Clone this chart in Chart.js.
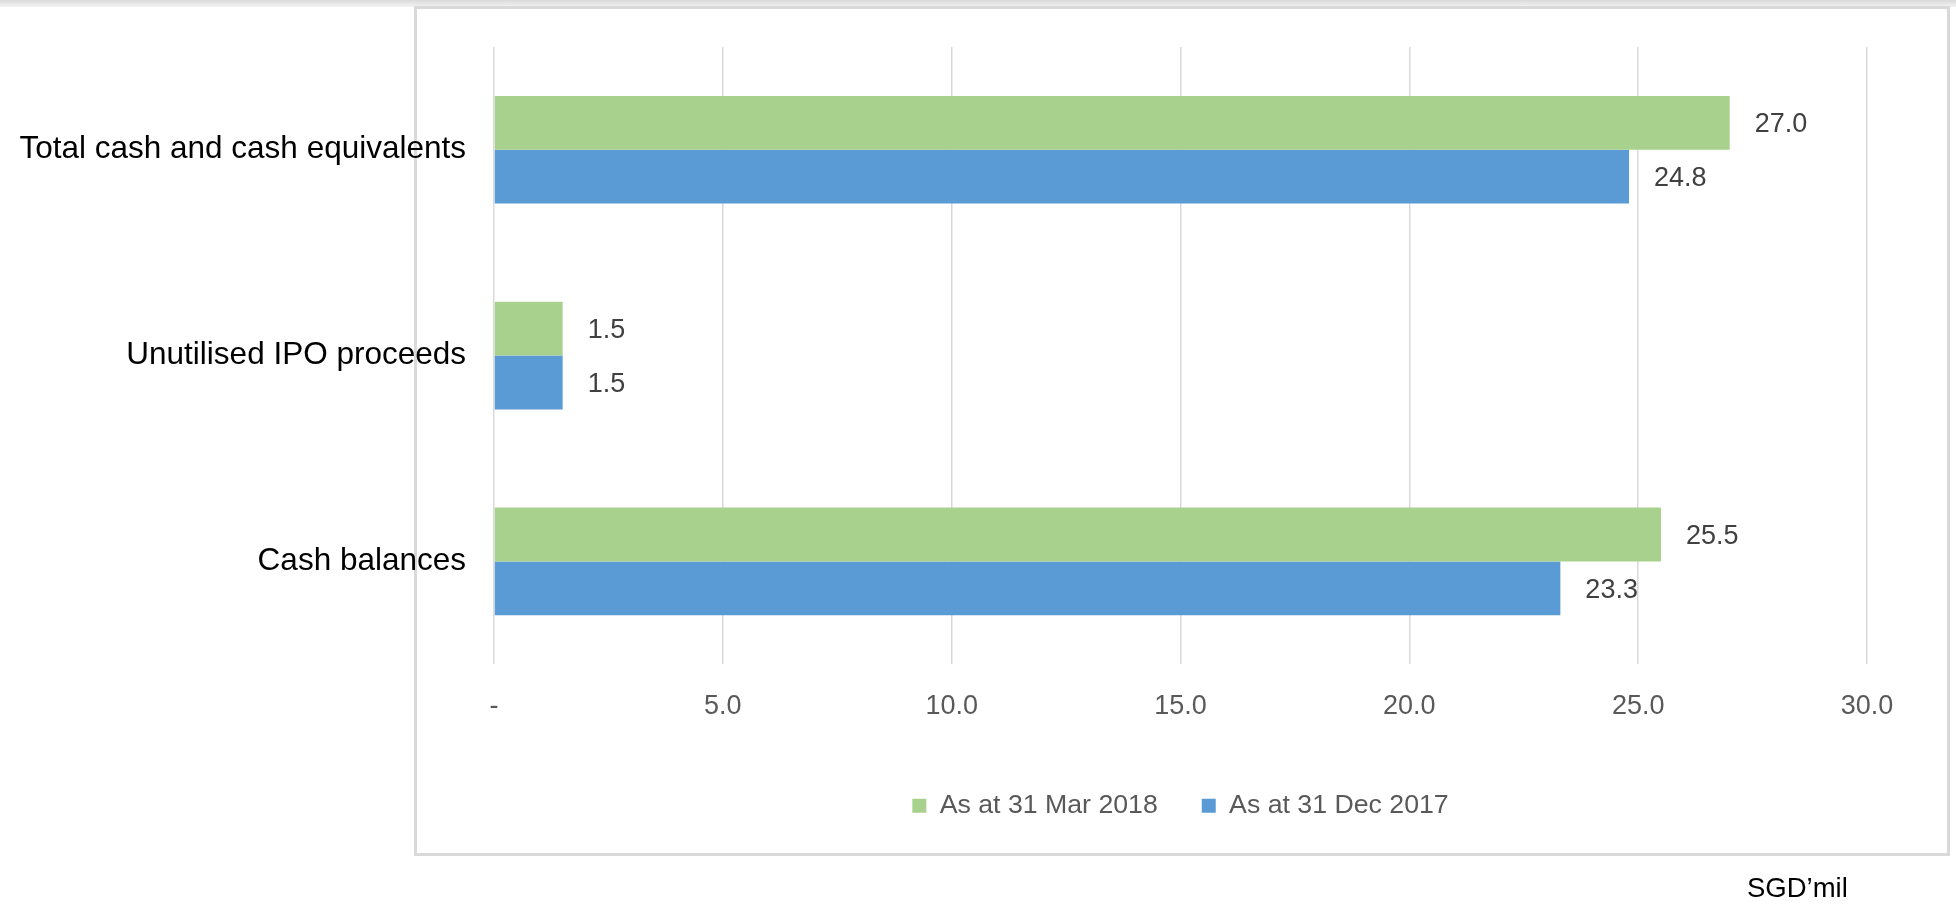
<!DOCTYPE html>
<html>
<head>
<meta charset="utf-8">
<script src="https://cdn.jsdelivr.net/npm/chart.js@4.4.1/dist/chart.umd.min.js"></script>
<style>
  body { margin: 0; background: #fff; }
  #wrap { position: relative; width: 1956px; height: 909px; overflow: hidden; }
  #band { position: absolute; left: 0; top: 0; width: 1956px; height: 7px; background: linear-gradient(#dadada, #f3f3f3); }
  #frame { position: absolute; left: 414px; top: 6px; width: 1536px; height: 850px; border: 3px solid #d9d9d9; box-sizing: border-box; }
  #cv { position: absolute; left: 0; top: 0; }
  #unit { position: absolute; left: 1747px; top: 871px; font: 27.5px "Liberation Sans", Arial, sans-serif; line-height: 34px; color: #000; }
</style>
</head>
<body>
<div id="wrap">
  <div id="band"></div>
  <div id="frame"></div>
  <canvas id="cv" width="1956" height="909"></canvas>
  <div id="unit">SGD’mil</div>
</div>
<script>
var categories = ["Total cash and cash equivalents", "Unutilised IPO proceeds", "Cash balances"];
var seriesNames = ["As at 31 Mar 2018", "As at 31 Dec 2017"];
var mar2018 = [27.0, 1.5, 25.5];
var dec2017 = [24.8, 1.5, 23.3];
var xTicks = [0, 5, 10, 15, 20, 25, 30];

var valueLabels = {
    id: "valueLabels",
    afterDatasetsDraw: function(chart) {
        var ctx = chart.ctx;
        ctx.save();
        ctx.font = "27px 'Liberation Sans', Arial, sans-serif";
        ctx.fillStyle = "#404040";
        ctx.textAlign = "left";
        ctx.textBaseline = "middle";
        chart.data.datasets.forEach(function(ds, i) {
            chart.getDatasetMeta(i).data.forEach(function(bar, j) {
                ctx.fillText(ds.data[j].toFixed(1), bar.x + 25, bar.y + 2);
            });
        });
        ctx.restore();
    }
};

var ctx = document.getElementById("cv").getContext("2d");

var chart = new Chart(ctx, {
    type: "bar",
    data: {
        labels: categories,
        datasets: [
            { label: seriesNames[0], data: mar2018, backgroundColor: "#a9d18e" },
            { label: seriesNames[1], data: dec2017, backgroundColor: "#5b9bd5" }
        ]
    },
    options: {
        indexAxis: "y",
        responsive: false,
        animation: false,
        barPercentage: 1,
        categoryPercentage: 0.523,
        layout: { padding: { left: 0, right: 89, top: 44, bottom: 80 } },
        plugins: {
            tooltip: { enabled: false },
            legend: {
                position: "bottom",
                fullSize: false,
                labels: {
                    boxWidth: 14,
                    boxHeight: 14,
                    padding: 44,
                    color: "#595959",
                    font: { family: "'Liberation Sans', Arial, sans-serif", size: 26.7 }
                }
            }
        },
        scales: {
            x: {
                min: 0,
                max: 30,
                afterBuildTicks: function(scale) {
                    scale.ticks = xTicks.map(function(v) { return { value: v }; });
                },
                afterFit: function(scale) { scale.height = 84; },
                grid: { color: "#d9d9d9", lineWidth: 1.5, drawTicks: false },
                border: { display: false },
                ticks: {
                    padding: 26,
                    color: "#595959",
                    font: { family: "'Liberation Sans', Arial, sans-serif", size: 27 },
                    callback: function(v) { return v === 0 ? "-" : v.toFixed(1); }
                }
            },
            y: {
                afterFit: function(scale) { scale.width = 494; },
                grid: { display: false, drawTicks: false },
                border: { display: false },
                ticks: {
                    padding: 28,
                    color: "#000",
                    font: { family: "'Liberation Sans', Arial, sans-serif", size: 31.5 }
                }
            }
        }
    },
    plugins: [valueLabels]
});
</script>
</body>
</html>
